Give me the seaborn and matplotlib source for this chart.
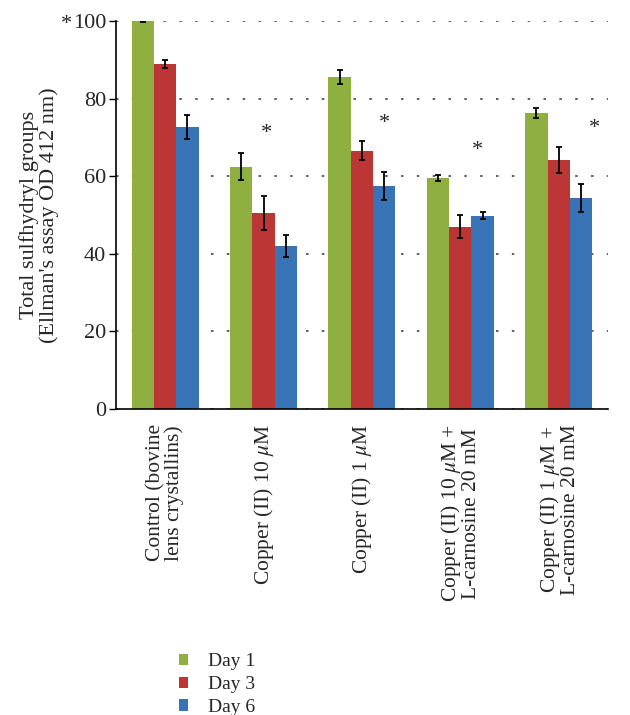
import pandas as pd
import seaborn as sns
import matplotlib.pyplot as plt
import numpy as np

# Dados
grupos = ['Control (bovine\nlens crystallins)', 'Copper (II) 10 $\\mu$M', 'Copper (II) 1 $\\mu$M',
          'Copper (II) 10 $\\mu$M +\nL-carnosine 20 mM', 'Copper (II) 1 $\\mu$M +\nL-carnosine 20 mM']
dias = ['Day 1', 'Day 3', 'Day 6']
dia1 = [100.0, 62.5, 85.5, 59.5, 76.3]
dia3 = [89.0, 50.5, 66.6, 47.0, 64.1]
dia6 = [72.7, 42.0, 57.4, 49.8, 54.4]
erro1 = [0.2, 3.6, 1.8, 0.8, 1.4]
erro3 = [1.0, 4.4, 2.4, 3.0, 3.3]
erro6 = [3.2, 2.8, 3.6, 0.9, 3.6]
# asteriscos (posição x do grupo, valor y)
ast_x = [1.03, 2.23, 3.17, 4.36]
ast_y = [71.0, 73.6, 66.5, 72.2]

cores = ['#8fb041', '#bb3634', '#3773b5']

dataset = pd.DataFrame({
    'grupo': grupos * 3,
    'dia': [d for d in dias for _ in grupos],
    'valor': dia1 + dia3 + dia6,
    'erro': erro1 + erro3 + erro6,
})

sns.set_style('white')
plt.rcParams['font.family'] = ['Liberation Serif', 'DejaVu Serif']
plt.rcParams['mathtext.fontset'] = 'stix'

fig = plt.figure(figsize=(6.3, 7.15), dpi=100)
ax = fig.add_axes([0.184, 0.428, 0.781, 0.5426])

sns.barplot(data=dataset, x='grupo', y='valor', hue='dia', palette=cores,
            width=0.68, gap=0, errorbar=None, ax=ax, saturation=1, legend=True,
            linewidth=0)

# Barras de erro nas posições das barras
for cont, d in zip(ax.containers, dias):
    sub = dataset[dataset['dia'] == d]
    xs = [b.get_x() + b.get_width() / 2 for b in cont]
    ax.errorbar(xs, sub['valor'], yerr=sub['erro'], fmt='none', ecolor='black',
                elinewidth=1.3, capsize=2.5, capthick=1.3, zorder=5)

for xa, ya in zip(ast_x, ast_y):
    ax.text(xa, ya, '*', ha='center', va='center', fontsize=16)
fig.text(0.105, 0.966, '*', ha='center', va='center', fontsize=16)

ax.set_ylim(0, 100)
ax.set_xlim(-0.5, 4.5)
ax.set_yticks([0, 20, 40, 60, 80, 100])
ax.yaxis.grid(True, linestyle=(0, (1.5, 8)), color='#444444', linewidth=1.2)
ax.set_axisbelow(True)
for s in ['top', 'right']:
    ax.spines[s].set_visible(False)
ax.spines['left'].set_color('black')
ax.spines['bottom'].set_color('black')
ax.spines['left'].set_linewidth(1.2)
ax.spines['bottom'].set_linewidth(1.2)

ax.set_xticks(range(5))
ax.set_xticklabels(grupos, rotation=90, fontsize=15.5, va='top', ha='center',
                   linespacing=0.92)
ax.set_xticks(np.arange(-0.5, 5, 1), minor=True)
ax.tick_params(axis='x', which='major', length=0, pad=11)
ax.tick_params(axis='x', which='minor', length=5, width=1, color='black', direction='out')
ax.tick_params(axis='y', length=5, width=1, color='black', direction='out', labelsize=16,
               left=True, pad=2)

ax.set_xlabel('')
ax.set_ylabel("Total sulfhydryl groups\n(Ellman's assay OD 412 nm)", fontsize=16,
              linespacing=1.0, labelpad=10)

ax.legend(loc='upper left', bbox_to_anchor=(0.268, 0.1), bbox_transform=fig.transFigure,
          frameon=False, fontsize=14, handlelength=0.5, handleheight=0.5,
          handletextpad=1.0, labelspacing=0.3, borderpad=0)

fig.savefig('out.png', dpi=100)
